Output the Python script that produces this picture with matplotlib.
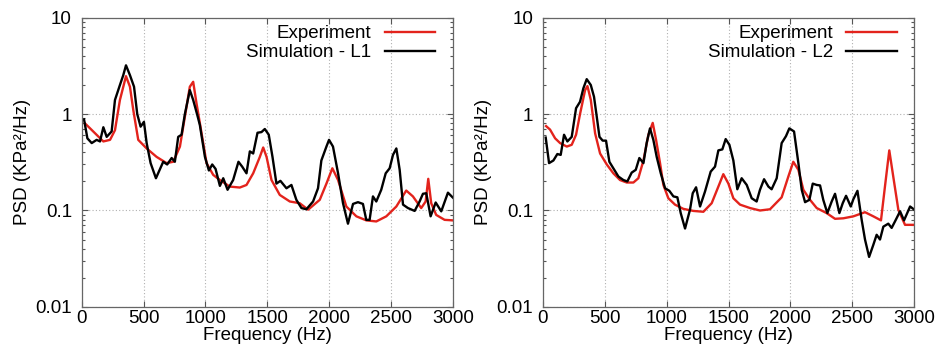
import matplotlib
matplotlib.use("Agg")
import matplotlib.pyplot as plt
from matplotlib.ticker import FixedLocator, LogLocator, NullFormatter, FuncFormatter

plt.rcParams["font.family"] = ["Liberation Sans", "DejaVu Sans"]

# Left panel: experiment vs simulation L1
exp1_f = [27, 175, 229, 269, 309, 358, 390, 417, 457, 525, 605, 686, 740, 794, 834, 874, 901, 928,
          969, 1009, 1063, 1117, 1197, 1278, 1332, 1386, 1440, 1467, 1494, 1534, 1601, 1682, 1762,
          1830, 1924, 1978, 2026, 2072, 2139, 2220, 2300, 2381, 2462, 2543, 2623, 2677, 2744, 2780,
          2801, 2825, 2865, 2933, 3000]
exp1_p = [0.80, 0.52, 0.54, 0.68, 1.40, 2.47, 1.92, 1.10, 0.54, 0.44, 0.36, 0.31, 0.32, 0.46, 0.94,
          1.92, 2.16, 1.29, 0.63, 0.31, 0.234, 0.207, 0.177, 0.173, 0.184, 0.243, 0.36, 0.45, 0.36,
          0.207, 0.145, 0.124, 0.119, 0.102, 0.129, 0.19, 0.274, 0.207, 0.11, 0.087, 0.079, 0.077,
          0.087, 0.11, 0.161, 0.14, 0.106, 0.124, 0.213, 0.119, 0.09, 0.08, 0.079]

sim1_f = [19, 46, 81, 121, 148, 175, 202, 242, 269, 309, 336, 358, 390, 423, 449, 476, 503, 525, 557,
          600, 659, 691, 727, 753, 780, 807, 834, 874, 901, 934, 955, 996, 1028, 1055, 1082, 1117,
          1144, 1179, 1224, 1267, 1297, 1332, 1359, 1386, 1421, 1453, 1480, 1512, 1542, 1574, 1606,
          1655, 1695, 1735, 1776, 1816, 1870, 1910, 1937, 1978, 1999, 2031, 2072, 2112, 2152, 2193,
          2233, 2273, 2300, 2327, 2354, 2381, 2421, 2457, 2489, 2516, 2543, 2570, 2597, 2637, 2691,
          2731, 2758, 2785, 2820, 2861, 2906, 2960, 3000]
sim1_p = [0.88, 0.56, 0.50, 0.54, 0.52, 0.73, 0.58, 0.66, 1.40, 2.0, 2.53, 3.2, 2.53, 1.92, 1.0, 0.74,
          0.83, 0.50, 0.31, 0.216, 0.32, 0.30, 0.35, 0.32, 0.58, 0.61, 1.0, 1.77, 1.40, 0.98, 0.77,
          0.36, 0.26, 0.30, 0.27, 0.18, 0.216, 0.164, 0.207, 0.32, 0.285, 0.243, 0.41, 0.39, 0.64,
          0.65, 0.70, 0.61, 0.36, 0.19, 0.203, 0.17, 0.184, 0.129, 0.106, 0.103, 0.124, 0.17, 0.33,
          0.46, 0.54, 0.46, 0.243, 0.119, 0.073, 0.117, 0.122, 0.117, 0.08, 0.08, 0.14, 0.124,
          0.164, 0.243, 0.274, 0.377, 0.44, 0.264, 0.115, 0.106, 0.099, 0.124, 0.149, 0.151, 0.087,
          0.121, 0.098, 0.153, 0.136]

# Right panel: experiment vs simulation L2
exp2_f = [27, 59, 100, 140, 194, 234, 269, 301, 342, 361, 388, 423, 463, 517, 570, 624, 678, 732,
          772, 813, 853, 888, 915, 947, 974, 1014, 1068, 1135, 1216, 1297, 1364, 1418, 1458, 1499,
          1539, 1593, 1674, 1754, 1835, 1929, 1983, 2023, 2064, 2104, 2158, 2212, 2292, 2360, 2427,
          2508, 2602, 2669, 2731, 2763, 2798, 2830, 2871, 2925, 3000]
exp2_p = [0.75, 0.69, 0.56, 0.50, 0.46, 0.48, 0.61, 1.0, 1.77, 1.95, 1.40, 0.63, 0.39, 0.30, 0.243,
          0.207, 0.195, 0.195, 0.216, 0.33, 0.61, 0.81, 0.54, 0.31, 0.184, 0.134, 0.115, 0.104,
          0.099, 0.097, 0.119, 0.177, 0.238, 0.19, 0.134, 0.115, 0.106, 0.10, 0.103, 0.137, 0.225,
          0.32, 0.264, 0.164, 0.129, 0.106, 0.094, 0.082, 0.083, 0.087, 0.096, 0.087, 0.079, 0.177,
          0.42, 0.225, 0.102, 0.071, 0.071]

sim2_f = [24, 51, 86, 118, 145, 172, 199, 234, 269, 301, 328, 355, 388, 414, 436, 458, 484, 511, 538,
          570, 611, 651, 683, 718, 751, 780, 813, 839, 866, 893, 920, 953, 988, 1022, 1055, 1087,
          1114, 1149, 1189, 1211, 1238, 1270, 1310, 1356, 1391, 1418, 1450, 1477, 1507, 1539, 1571,
          1606, 1647, 1687, 1727, 1754, 1787, 1822, 1848, 1889, 1929, 1964, 1991, 2029, 2064, 2091,
          2118, 2153, 2180, 2212, 2239, 2265, 2298, 2333, 2360, 2395, 2422, 2449, 2487, 2508, 2541,
          2575, 2602, 2635, 2669, 2696, 2723, 2750, 2790, 2817, 2844, 2885, 2917, 2966, 3000]
sim2_p = [0.57, 0.31, 0.33, 0.385, 0.377, 0.61, 0.52, 0.58, 1.15, 1.34, 1.85, 2.3, 2.0, 1.51, 0.94,
          0.58, 0.53, 0.53, 0.32, 0.274, 0.225, 0.207, 0.20, 0.247, 0.264, 0.35, 0.31, 0.50, 0.71,
          0.54, 0.36, 0.243, 0.17, 0.16, 0.14, 0.137, 0.094, 0.065, 0.102, 0.151, 0.174, 0.11,
          0.157, 0.253, 0.285, 0.42, 0.43, 0.55, 0.48, 0.33, 0.166, 0.216, 0.184, 0.134, 0.124,
          0.164, 0.211, 0.177, 0.166, 0.216, 0.50, 0.59, 0.71, 0.66, 0.31, 0.164, 0.122, 0.129,
          0.19, 0.184, 0.182, 0.129, 0.094, 0.124, 0.149, 0.094, 0.119, 0.142, 0.11, 0.131, 0.16,
          0.08, 0.05, 0.033, 0.044, 0.056, 0.05, 0.068, 0.073, 0.066, 0.077, 0.098, 0.079, 0.11,
          0.102]

x_ticks = [0, 500, 1000, 1500, 2000, 2500, 3000]
y_ticks = [0.01, 0.1, 1, 10]

RED = "#e3231c"
FS = 13.5

fig = plt.figure(figsize=(9.39, 3.52), dpi=100)
ax1 = fig.add_axes([0.087, 0.128, 0.3953, 0.822])
ax2 = fig.add_axes([0.578, 0.128, 0.3957, 0.822])

panels = [
    (ax1, exp1_f, exp1_p, sim1_f, sim1_p, "Simulation - L1"),
    (ax2, exp2_f, exp2_p, sim2_f, sim2_p, "Simulation - L2"),
]

for ax, ef, ep, sf, sp, sim_label in panels:
    ax.plot(ef, ep, color=RED, lw=1.7, label="Experiment")
    ax.plot(sf, sp, color="black", lw=1.7, label=sim_label)
    ax.set_yscale("log")
    ax.set_xlim(0, 3000)
    ax.set_ylim(0.01, 10)
    ax.xaxis.set_major_locator(FixedLocator(x_ticks))
    ax.yaxis.set_major_locator(FixedLocator(y_ticks))
    ax.yaxis.set_minor_locator(LogLocator(base=10, subs=range(2, 10)))
    ax.yaxis.set_minor_formatter(NullFormatter())
    ax.yaxis.set_major_formatter(FuncFormatter(lambda v, _: f"{v:g}"))
    ax.grid(True, which="major", color="#b0b0b0", linestyle=(0, (1, 2)), linewidth=0.8)
    ax.tick_params(which="both", direction="in", top=True, right=True, colors="#555555",
                   labelcolor="black", labelsize=FS)
    ax.tick_params(which="major", length=4, width=0.8)
    ax.tick_params(which="minor", length=2.5, width=0.8)
    ax.tick_params(axis="y", which="major", pad=7)
    ax.tick_params(axis="x", which="major", pad=2)
    for s in ax.spines.values():
        s.set_color("#666666")
        s.set_linewidth(0.9)
    ax.set_xlabel("Frequency (Hz)", fontsize=FS, labelpad=0)
    ax.set_ylabel("PSD (KPa²/Hz)", fontsize=FS, labelpad=3)
    ax.legend(loc="upper right", bbox_to_anchor=(0.965, 0.99), frameon=False, markerfirst=False,
              fontsize=FS, handlelength=2.7, handletextpad=0.7, labelspacing=0.1,
              borderaxespad=0.1, borderpad=0.15)

fig.savefig("out.png", dpi=100)
